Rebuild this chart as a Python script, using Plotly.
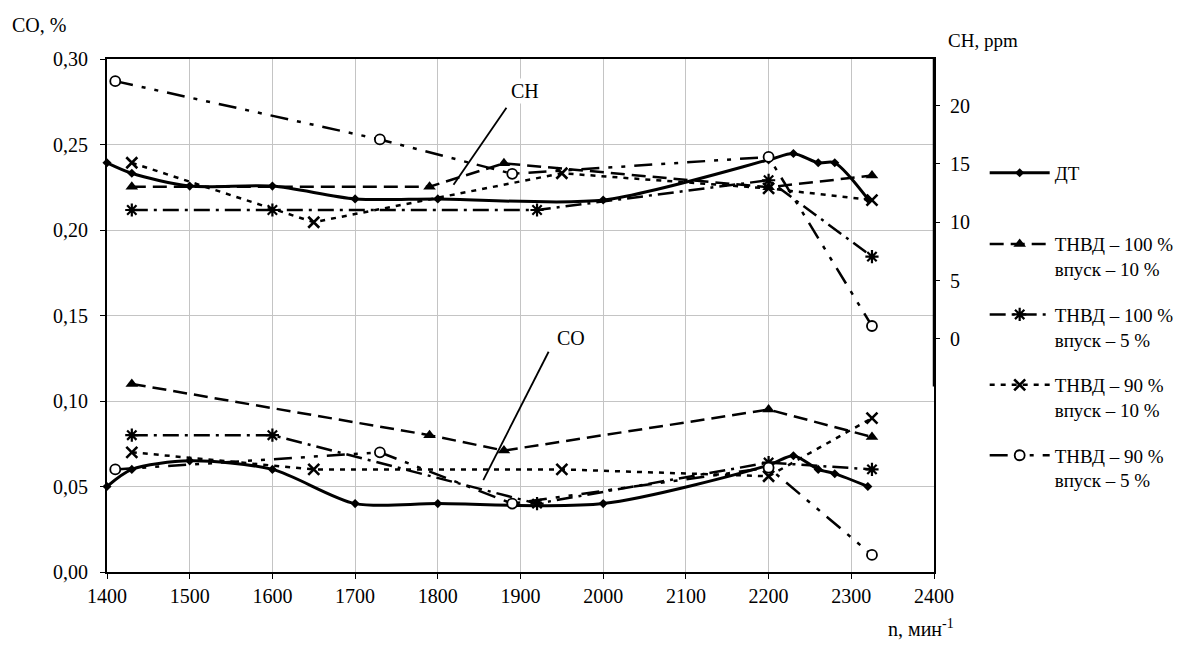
import plotly.graph_objects as go

# ---------------- data ----------------
names = ["ДТ", "ТНВД – 100 %<br>впуск – 10 %", "ТНВД – 100 %<br>впуск – 5 %",
         "ТНВД – 90 %<br>впуск – 10 %", "ТНВД – 90 %<br>впуск – 5 %"]

dt_n = [1400, 1430, 1500, 1600, 1700, 1800, 2000, 2200, 2230, 2260, 2280, 2320]
dt_co = [0.050, 0.060, 0.065, 0.060, 0.040, 0.040, 0.040, 0.0625, 0.068, 0.060, 0.0575, 0.050]
dt_ch = [15.1, 14.2, 13.1, 13.1, 12.0, 12.0, 11.9, 15.35, 15.9, 15.1, 15.1, 12.0]

t100_10_n = [1430, 1790, 1880, 2200, 2325]
t100_10_co = [0.110, 0.080, 0.071, 0.095, 0.079]
t100_10_ch = [13.05, 13.05, 15.05, 13.0, 14.0]

t100_5_n = [1430, 1600, 1920, 2200, 2325]
t100_5_co = [0.080, 0.080, 0.040, 0.064, 0.060]
t100_5_ch = [11.05, 11.05, 11.05, 13.6, 7.05]

t90_10_n = [1430, 1650, 1950, 2200, 2325]
t90_10_co = [0.070, 0.060, 0.060, 0.056, 0.090]
t90_10_ch = [15.1, 10.0, 14.2, 12.9, 11.9]

t90_5_n = [1410, 1730, 1890, 2200, 2325]
t90_5_co = [0.060, 0.070, 0.040, 0.061, 0.010]
t90_5_ch = [22.1, 17.1, 14.15, 15.6, 1.1]

x_ticks = [1400, 1500, 1600, 1700, 1800, 1900, 2000, 2100, 2200, 2300, 2400]
co_ticks = [0.00, 0.05, 0.10, 0.15, 0.20, 0.25, 0.30]
ch_ticks = [0, 5, 10, 15, 20]

# ---------------- styles ----------------
FONT = "Liberation Serif, Tinos, Times New Roman, DejaVu Serif Condensed, DejaVu Serif, serif"
styles = [
    dict(line=dict(color="black", width=3, shape="spline", smoothing=0.8),
         marker=dict(symbol="diamond", size=7, color="black")),
    dict(line=dict(color="black", width=2.5, dash="14px,7px"),
         marker=dict(symbol="triangle-up", size=11, color="black")),
    dict(line=dict(color="black", width=2.5, dash="16px,6px,3px,6px"),
         marker=dict(symbol="asterisk-open", size=11, color="black", line=dict(width=2.2, color="black"))),
    dict(line=dict(color="black", width=2.5, dash="5px,6px"),
         marker=dict(symbol="x-thin-open", size=11, color="black", line=dict(width=2.6, color="black"))),
    dict(line=dict(color="black", width=2.5, dash="18px,9px,4px,9px,4px,9px"),
         marker=dict(symbol="circle", size=10, color="white", line=dict(width=1.8, color="black"))),
]

series = [
    (dt_n, dt_co, dt_ch),
    (t100_10_n, t100_10_co, t100_10_ch),
    (t100_5_n, t100_5_co, t100_5_ch),
    (t90_10_n, t90_10_co, t90_10_ch),
    (t90_5_n, t90_5_co, t90_5_ch),
]

fig = go.Figure()
for i, (xs, co, ch) in enumerate(series):
    st = styles[i]
    fig.add_trace(go.Scatter(x=xs, y=co, mode="lines+markers", name=names[i],
                             line=st["line"], marker=st["marker"], showlegend=False,
                             yaxis="y", cliponaxis=False))
    fig.add_trace(go.Scatter(x=xs, y=ch, mode="lines+markers", name=names[i],
                             line=st["line"], marker=st["marker"], showlegend=True,
                             legend="legend" if i == 0 else "legend2",
                             legendgroup="g%d" % i, yaxis="y2", cliponaxis=False))

legend_common = dict(x=1.06, xanchor="left", yanchor="top",
                     font=dict(family=FONT, size=19, color="black"),
                     tracegroupgap=18, valign="top", itemwidth=60,
                     bgcolor="rgba(0,0,0,0)", traceorder="grouped")

fig.update_layout(
    width=1182, height=639,
    margin=dict(l=99, r=255, t=51, b=75),
    paper_bgcolor="white", plot_bgcolor="white",
    separators=", ",
    font=dict(family=FONT, size=20, color="black"),
    showlegend=True,
    legend=dict(y=0.815, **legend_common),
    legend2=dict(y=0.676, **legend_common),
    xaxis=dict(range=[1400, 2400], tickvals=x_ticks, tickformat="d",
               showgrid=True, gridcolor="#c4c4c4", gridwidth=1,
               showline=True, linecolor="black", linewidth=1.5, mirror=True,
               ticks="outside", ticklen=5, tickcolor="black",
               tickfont=dict(family=FONT, size=20), zeroline=False),
    yaxis=dict(range=[0, 0.30], tickvals=co_ticks, tickformat=".2f",
               showgrid=True, gridcolor="#c4c4c4", gridwidth=1,
               showline=True, linecolor="black", linewidth=2, mirror=True,
               ticks="outside", ticklen=5, tickcolor="black",
               tickfont=dict(family=FONT, size=20), zeroline=False,
               ticklabelstandoff=8),
    yaxis2=dict(range=[-20, 24], tickvals=ch_ticks, overlaying="y", side="right",
                showgrid=False, showline=False, zeroline=False,
                ticks="outside", ticklen=5, tickcolor="black",
                tickfont=dict(family=FONT, size=20), ticklabelstandoff=6),
)

# partial right axis line (CH axis)
fig.add_shape(type="line", xref="paper", yref="y2", x0=1, x1=1, y0=-4.1, y1=24,
              line=dict(color="black", width=2.5))

# leader lines for CH / CO labels
fig.add_shape(type="line", xref="x", yref="y", x0=1883, y0=0.2715, x1=1819, y1=0.2264,
              line=dict(color="black", width=1.8))
fig.add_shape(type="line", xref="x", yref="y", x0=1934, y0=0.1288, x1=1855, y1=0.0537,
              line=dict(color="black", width=1.8))

fig.add_annotation(x=1906, y=0.281, xref="x", yref="y", text="CH", showarrow=False,
                   font=dict(family=FONT, size=20), bgcolor="white")
fig.add_annotation(x=1961, y=0.137, xref="x", yref="y", text="CO", showarrow=False,
                   font=dict(family=FONT, size=20), bgcolor="white")

# axis titles
fig.add_annotation(x=-0.117, y=1.067, xref="paper", yref="paper", text="CO, %",
                   showarrow=False, xanchor="left", yanchor="middle",
                   font=dict(family=FONT, size=20))
fig.add_annotation(x=1.0145, y=1.036, xref="paper", yref="paper", text="CH, ppm",
                   showarrow=False, xanchor="left", yanchor="middle",
                   font=dict(family=FONT, size=19))
fig.add_annotation(x=0.942, y=-0.11, xref="paper", yref="paper", text="n, мин<sup>-1</sup>",
                   showarrow=False, xanchor="left", yanchor="middle",
                   font=dict(family=FONT, size=20))

fig.write_html("out.html")
